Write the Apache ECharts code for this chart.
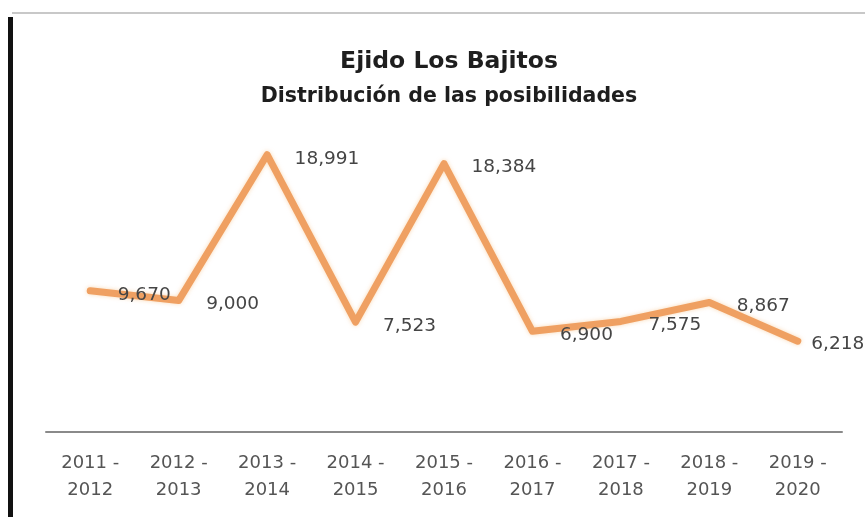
<!DOCTYPE html>
<html>
<head>
<meta charset="utf-8">
<script src="https://cdn.jsdelivr.net/npm/echarts@6/dist/echarts.min.js"></script>
<style>
  html, body { margin: 0; padding: 0; background: #ffffff; }
  #chart { width: 865px; height: 517px; }
</style>
</head>
<body>
<div id="chart"></div>
<script>
// Ciclos agrícolas y posibilidades registradas por ciclo
const ciclos = [
  '2011 -\n2012', '2012 -\n2013', '2013 -\n2014', '2014 -\n2015', '2015 -\n2016',
  '2016 -\n2017', '2017 -\n2018', '2018 -\n2019', '2019 -\n2020'
];
const posibilidades = [9670, 9000, 18991, 7523, 18384, 6900, 7575, 8867, 6218];

const tituloPrincipal = 'Ejido Los Bajitos';
const subtitulo = 'Distribución de las posibilidades';

const fuente = '"DejaVu Sans", sans-serif';
const fmt = v => v.toLocaleString('en-US');

// El último valor lleva la etiqueta más pegada al punto para que quepa
const puntos = posibilidades.map((v, i) =>
  i === posibilidades.length - 1
    ? { value: v, label: { offset: [8, 3] } }
    : v
);

const chart = echarts.init(document.getElementById('chart'), null, { renderer: 'canvas' });

chart.setOption({
  backgroundColor: '#ffffff',
  animation: false,
  title: [
    {
      text: tituloPrincipal,
      left: 444, top: 45, textAlign: 'center',
      textStyle: { fontFamily: fuente, fontSize: 23.5, fontWeight: 'bold', color: '#1e1e1e', lineHeight: 24 }
    },
    {
      text: subtitulo,
      left: 444, top: 81, textAlign: 'center',
      textStyle: { fontFamily: fuente, fontSize: 20.5, fontWeight: 'bold', color: '#1e1e1e', lineHeight: 21 }
    }
  ],
  graphic: [
    // marco del gráfico: borde superior gris y borde izquierdo oscuro
    { type: 'rect', shape: { x: 12, y: 12, width: 853, height: 2 }, style: { fill: '#c8c8c8' }, silent: true },
    { type: 'rect', shape: { x: 8, y: 17, width: 5, height: 500 }, style: { fill: '#111111' }, silent: true }
  ],
  grid: { left: 46, right: 23, top: 140, bottom: 85, containLabel: false },
  xAxis: {
    type: 'category',
    data: ciclos,
    boundaryGap: true,
    axisLine: { show: true, lineStyle: { color: '#8a8a8a', width: 2 } },
    axisTick: { show: false },
    axisLabel: {
      interval: 0, margin: 18,
      fontFamily: fuente, fontSize: 18, lineHeight: 27, color: '#555555'
    },
    splitLine: { show: false }
  },
  yAxis: {
    type: 'value',
    min: 0, max: 20000,
    show: false,
    splitLine: { show: false }
  },
  series: [
    {
      type: 'line',
      data: puntos,
      symbol: 'circle',
      symbolSize: 1,
      showSymbol: true,
      itemStyle: { color: 'rgba(0,0,0,0)' },
      smooth: false,
      lineStyle: {
        color: '#EFA062', width: 7, cap: 'round', join: 'round',
        shadowColor: 'rgba(245, 185, 120, 0.55)', shadowBlur: 4
      },
      label: {
        show: true,
        position: 'right',
        distance: 5,
        offset: [22, 4],
        formatter: p => fmt(p.value),
        fontFamily: fuente, fontSize: 18.5, color: '#454545'
      }
    }
  ]
});
</script>
</body>
</html>
